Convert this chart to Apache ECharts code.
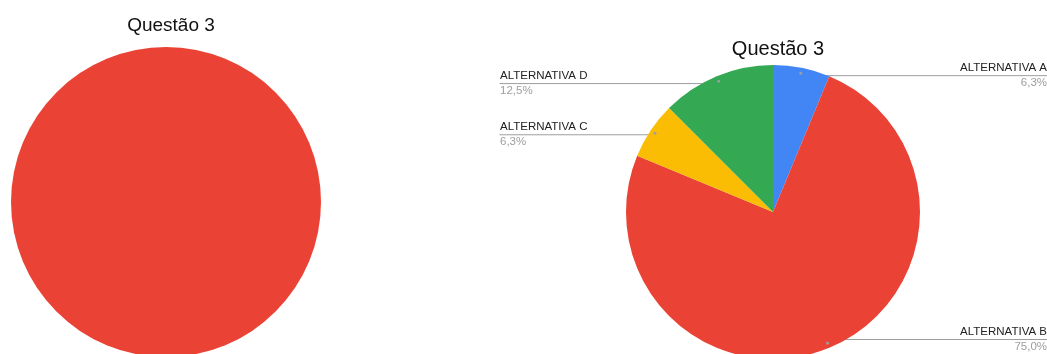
<!DOCTYPE html>
<html>
<head>
<meta charset="utf-8">
<script src="https://cdn.jsdelivr.net/npm/echarts@6/dist/echarts.min.js"></script>
<style>
  html, body { margin: 0; padding: 0; background: #ffffff; }
  #chart { width: 1047px; height: 354px; }
</style>
</head>
<body>
<div id="chart"></div>
<script>
// Answers to question 3
const categories = ['ALTERNATIVA A', 'ALTERNATIVA B', 'ALTERNATIVA C', 'ALTERNATIVA D'];
const leftValues = [0, 16, 0, 0];
const rightValues = [1, 12, 1, 2];
const sliceColors = ['#4285F4', '#EA4335', '#FBBC04', '#34A853'];
const titleText = 'Questão 3';

const FONT = '"Liberation Sans", Arial, sans-serif';

function toData(values) {
  return categories.map((name, i) => ({ name: name, value: values[i] }));
}

const rightTotal = rightValues.reduce((a, b) => a + b, 0);
function pctText(v) {
  return (v / rightTotal * 100).toFixed(1).replace('.', ',') + '%';
}

const chart = echarts.init(document.getElementById('chart'), null, { renderer: 'canvas' });

chart.setOption({
  animation: false,
  color: sliceColors,
  title: [
    {
      text: titleText, left: 166, top: 11, textAlign: 'center',
      textStyle: { fontFamily: FONT, fontSize: 19, fontWeight: 'normal', color: '#111' }
    },
    {
      text: titleText, left: 773, top: 34, textAlign: 'center',
      textStyle: { fontFamily: FONT, fontSize: 20, fontWeight: 'normal', color: '#111' }
    }
  ],
  series: [
    // left pie, no labels
    {
      type: 'pie', left: 0, top: 0, width: 340, height: 354,
      center: [166, 202], radius: 155,
      startAngle: 90, clockwise: true,
      label: { show: false }, labelLine: { show: false },
      silent: true,
      data: toData(leftValues)
    },
    // right pie, filled slices
    {
      type: 'pie', left: 500, top: 0, width: 547, height: 354,
      center: [273, 212], radius: 147,
      startAngle: 90, clockwise: true,
      label: { show: false }, labelLine: { show: false },
      silent: true,
      data: toData(rightValues)
    },
    // right pie, outside labels with leader lines starting inside the slice
    {
      type: 'pie', left: 500, top: 0, width: 547, height: 354,
      center: [273, 212], radius: 139,
      startAngle: 90, clockwise: true,
      silent: true,
      itemStyle: { color: 'rgba(0,0,0,0)' },
      label: {
        show: true, position: 'outside', alignTo: 'edge', edgeDistance: 0,
        distanceToLabelLine: -88,
        formatter: p => '{n|' + p.name + '}\n{v|' + pctText(p.value) + '}',
        rich: {
          n: { fontFamily: FONT, fontSize: 11.5, color: '#222', lineHeight: 15 },
          v: { fontFamily: FONT, fontSize: 11.5, color: '#9e9e9e', lineHeight: 15 }
        }
      },
      labelLine: {
        show: true, length: 0, length2: 0, smooth: false,
        lineStyle: { color: '#9e9e9e', width: 1 }
      },
      data: toData(rightValues)
    },
    // small markers where the leader lines begin
    {
      type: 'pie', left: 500, top: 0, width: 547, height: 354,
      center: [273, 212], radius: [135, 143],
      startAngle: 90, clockwise: true,
      silent: true,
      itemStyle: { color: 'rgba(0,0,0,0)' },
      label: {
        show: true, position: 'inside', formatter: '●',
        fontFamily: FONT, fontSize: 7, color: '#9e9e9e'
      },
      labelLine: { show: false },
      data: toData(rightValues)
    }
  ]
});
</script>
</body>
</html>
